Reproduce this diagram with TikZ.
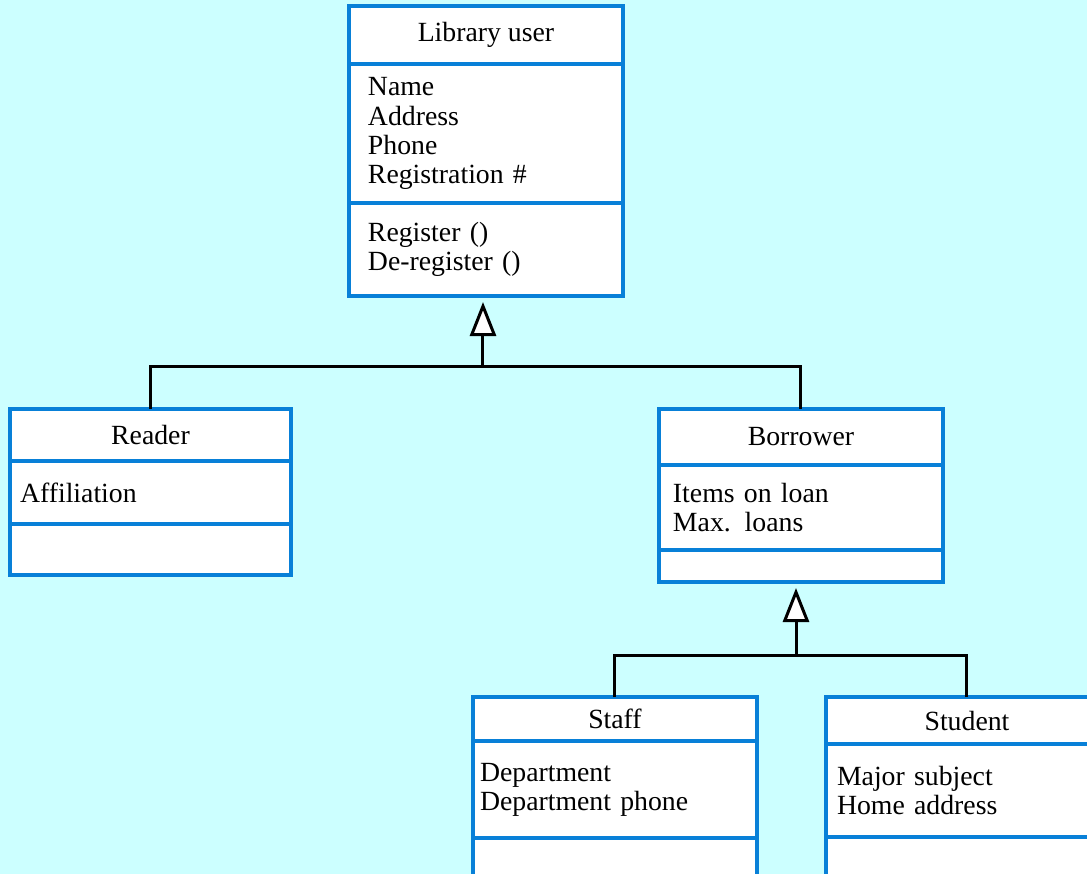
\documentclass[tikz,border=0pt]{standalone}
\usepackage{fontspec}
\setmainfont{Liberation Serif}
\usetikzlibrary{arrows.meta,positioning}
\definecolor{umlblue}{RGB}{8,128,216}
\definecolor{bgcyan}{RGB}{204,255,255}
\tikzset{
  cbox/.style={draw=umlblue, fill=white, line width=0.04cm, anchor=north west,
    inner sep=0pt, outer sep=0pt, font=\fontsize{7.9}{8.3}\selectfont},
  chead/.style={cbox, align=center},
  cattr/.style={cbox, align=left},
  genline/.style={line width=0.03cm, black},
  gentip/.style={-{Triangle[length=0.34cm,width=0.26cm,fill=white]}, shorten >=0.06cm}
}
\begin{document}
\begin{tikzpicture}
    \fill[bgcyan] (0,0) rectangle (10.87,-8.74);
    \useasboundingbox (0,0) rectangle (10.87,-8.74);
    \clip (0,0) rectangle (10.87,-8.74);

    % Library user
    \node[chead, minimum width=2.74cm, minimum height=0.58cm] (luH) at (3.49,-0.06) {Library user};
    \node[cattr, minimum height=1.39cm, text width=2.36cm, inner xsep=0.19cm] (luA) at (luH.south west)
        {Name\\Address\\Phone\\Registration \#};
    \node[cattr, minimum height=0.93cm, text width=2.36cm, inner xsep=0.19cm] (luO) at (luA.south west)
        {Register ()\\De-register ()};

    % Reader
    \node[chead, minimum width=2.81cm, minimum height=0.52cm] (rdH) at (0.10,-4.09) {Reader};
    \node[cattr, minimum height=0.63cm, text width=2.61cm, inner xsep=0.10cm] (rdA) at (rdH.south west)
        {Affiliation};
    \node[cattr, minimum height=0.51cm, text width=2.61cm, inner xsep=0.10cm] (rdO) at (rdA.south west) {};

    % Borrower
    \node[chead, minimum width=2.84cm, minimum height=0.56cm] (brH) at (6.59,-4.09) {Borrower};
    \node[cattr, minimum height=0.85cm, text width=2.56cm, inner xsep=0.14cm] (brA) at (brH.south west)
        {Items on loan\\Max. loans};
    \node[cattr, minimum height=0.32cm, text width=2.56cm, inner xsep=0.14cm] (brO) at (brA.south west) {};

    % Staff
    \node[chead, minimum width=2.84cm, minimum height=0.44cm] (stH) at (4.73,-6.97) {Staff};
    \node[cattr, minimum height=0.97cm, text width=2.70cm, inner xsep=0.07cm] (stA) at (stH.south west)
        {Department\\Department phone};
    \node[cattr, minimum height=0.50cm, text width=2.70cm, inner xsep=0.07cm] (stO) at (stA.south west) {};

    % Student
    \node[chead, minimum width=2.82cm, minimum height=0.47cm] (sdH) at (8.26,-6.97) {Student};
    \node[cattr, minimum height=0.93cm, text width=2.60cm, inner xsep=0.11cm] (sdA) at (sdH.south west)
        {Major subject\\Home address};
    \node[cattr, minimum height=0.50cm, text width=2.60cm, inner xsep=0.11cm] (sdO) at (sdA.south west) {};

    % generalisations
    \coordinate (j1) at (4.83,-3.66);
    \draw[genline] (rdH.north) |- (j1) -| (brH.north);
    \draw[genline, gentip] (j1) -- (j1 |- luO.south);

    \coordinate (j2) at (7.96,-6.55);
    \draw[genline] (stH.north) |- (j2) -| (sdH.north);
    \draw[genline, gentip] (j2) -- (j2 |- brO.south);
\end{tikzpicture}
\end{document}
